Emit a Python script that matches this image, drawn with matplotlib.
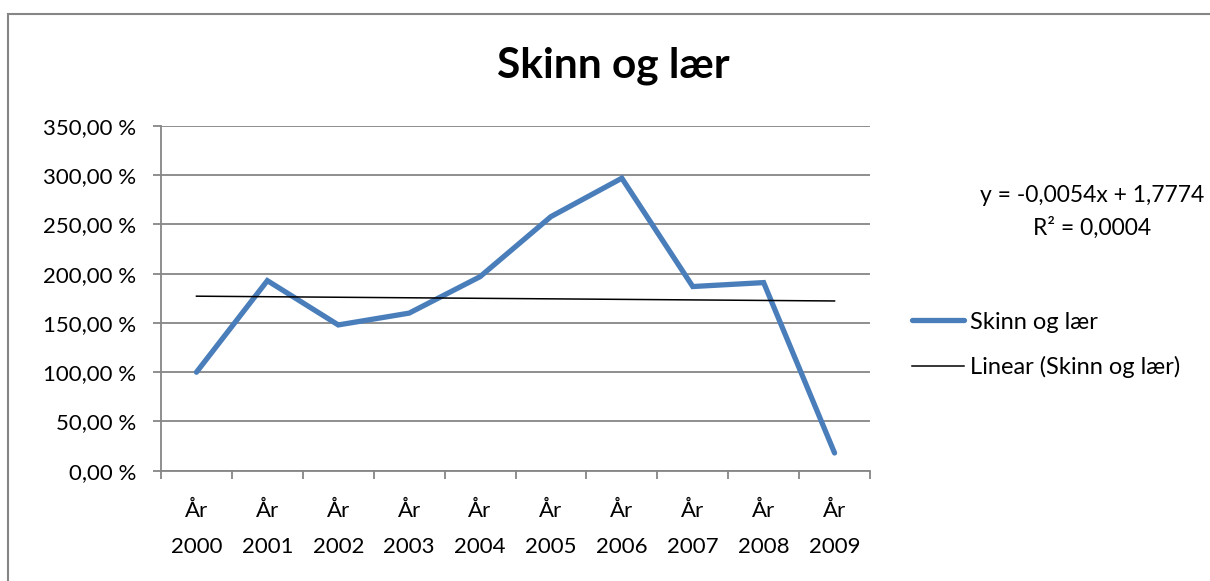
import numpy as np
import matplotlib
matplotlib.use("Agg")
import matplotlib.pyplot as plt
from matplotlib.patches import Rectangle
from matplotlib.ticker import FixedLocator, FuncFormatter

plt.rcParams['font.family'] = ['Lato', 'DejaVu Sans']

# data (percent)
years = ["2000", "2001", "2002", "2003", "2004", "2005", "2006", "2007", "2008", "2009"]
values = [100, 193, 148, 160, 197, 258, 297, 187, 191, 18]
trend_slope = -0.0054
trend_icept = 1.7774
series_name = "Skinn og lær"
eq_text = "y = -0,0054x + 1,7774\nR² = 0,0004"

grid_col = "#868686"
blue = "#4A7EBB"

fig = plt.figure(figsize=(12.1, 5.81), dpi=100)
ax = fig.add_axes([161/1210, 1-470.7/581, (870-161)/1210, (470.7-126)/581])

x = np.arange(len(years))
ax.plot(x, values, color=blue, lw=3.8, solid_joinstyle='miter', solid_capstyle='round',
        label=series_name, zorder=3)
xn = x + 1
trend = (trend_slope * xn + trend_icept) * 100
ax.plot(x, trend, color="black", lw=1.1, label="Linear (" + series_name + ")", zorder=4)

ax.set_xlim(-0.5, len(years) - 0.5)
ax.set_ylim(0, 350)
ax.set_yticks(np.arange(0, 351, 50))
ax.yaxis.set_major_formatter(FuncFormatter(lambda v, p: f"{v:.2f} %".replace(".", ",")))
ax.grid(axis='y', color=grid_col, lw=1.3)
ax.set_axisbelow(True)

ax.xaxis.set_major_locator(FixedLocator(np.arange(-0.5, len(years), 1.0)))
ax.xaxis.set_minor_locator(FixedLocator(x))
ax.set_xticklabels([])
ax.set_xticklabels(["År\n" + y for y in years], minor=True)
ax.tick_params(axis='x', which='minor', length=0, pad=22, labelsize=16)
ax.tick_params(axis='x', which='major', length=6, width=1.3, color=grid_col, direction='out')
ax.tick_params(axis='y', length=6, width=1.3, color=grid_col, direction='out', labelsize=16, pad=12)
for lab in ax.get_xticklabels(minor=True):
    lab.set_linespacing(1.95)

for s in ['top', 'right']:
    ax.spines[s].set_visible(False)
for s in ['left', 'bottom']:
    ax.spines[s].set_color(grid_col)
    ax.spines[s].set_linewidth(1.3)

fig.text(613/1210, 1-66/581, series_name, ha='center', va='center', fontsize=30.5, fontweight='bold')
fig.text(1092/1210, 1-212/581, eq_text, ha='center', va='center', fontsize=16.5, linespacing=1.55)

fig.legend(loc='center left', bbox_to_anchor=(900/1210, 1-345/581), frameon=False,
           fontsize=17, handlelength=2.2, handletextpad=0.25, labelspacing=1.0, borderpad=0)

fig.patches.append(Rectangle((8/1210, -0.2), 1.2, 1.2 - 14/581, transform=fig.transFigure,
                             fill=False, edgecolor=grid_col, lw=1.5))

fig.savefig("out.png", dpi=100)
